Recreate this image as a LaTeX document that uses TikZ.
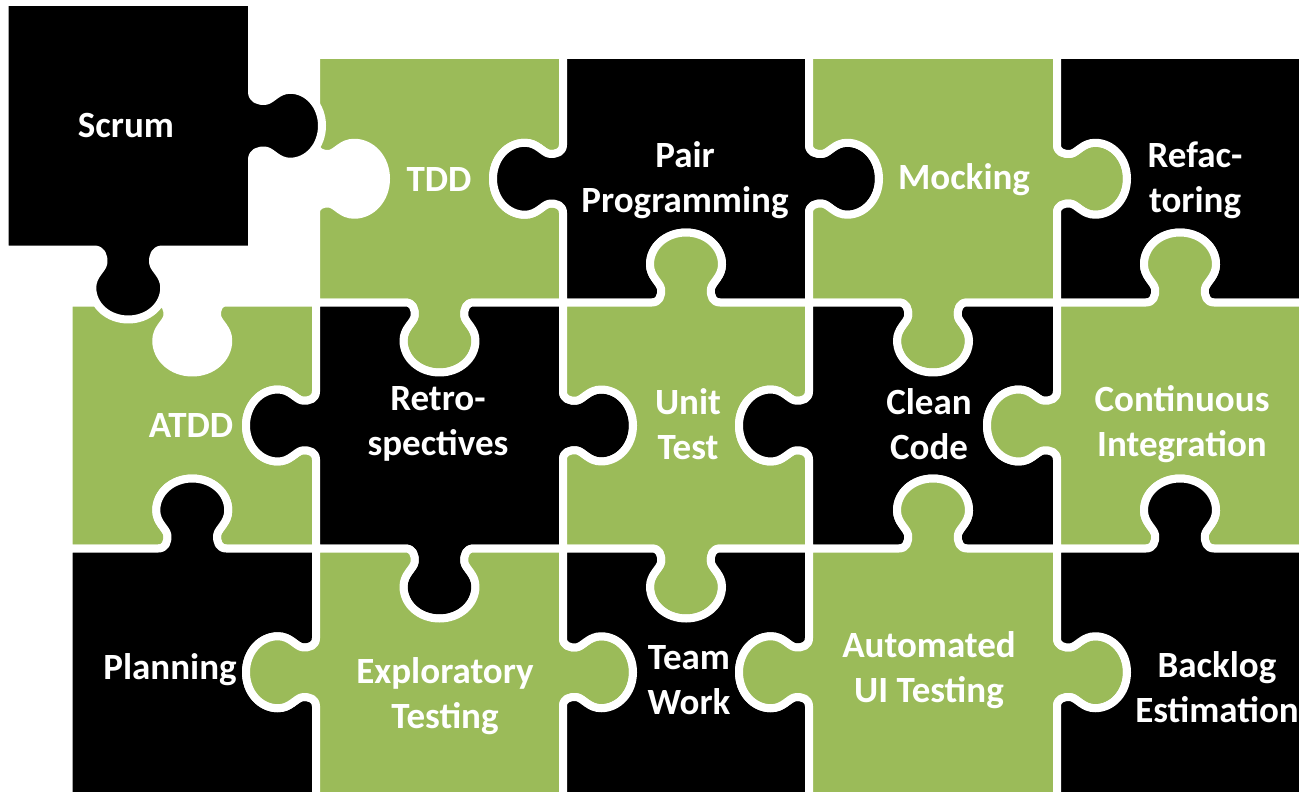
\documentclass[tikz,border=0pt]{standalone}
\usepackage{fontspec}
\setmainfont{Carlito}
\definecolor{leaf}{HTML}{9BBB59}

% one point of the tab profile: t along the edge, d away from it
\newcommand\jigpt[3]{%
  \pgfmathsetmacro\tmpx{\emx+(#2)*(\eux)+(\ess)*(#3)*(\euy)}%
  \pgfmathsetmacro\tmpy{\emy+(#2)*(\euy)-(\ess)*(#3)*(\eux)}%
  \expandafter\xdef\csname jig#1\endcsname{(\tmpx,\tmpy)}}

% append a tab (s=1) or a slot (s=-1) centred at (mx,my), edge direction (ux,uy)
\newcommand\jigtab[5]{%
  \def\emx{#1}\def\emy{#2}\def\eux{#3}\def\euy{#4}\def\ess{#5}%
  \ifnum#5=0\relax\else
    \jigpt{A}{-34}{0}\jigpt{B}{-27}{0}\jigpt{C}{-24}{6}\jigpt{D}{-25}{14}%
    \jigpt{E}{-26}{20}\jigpt{F}{-36}{26}\jigpt{G}{-36}{38}%
    \jigpt{H}{-36}{56}\jigpt{I}{-20}{70}\jigpt{J}{0}{70}%
    \jigpt{K}{20}{70}\jigpt{L}{36}{56}\jigpt{M}{36}{38}%
    \jigpt{N}{36}{26}\jigpt{O}{26}{20}\jigpt{P}{25}{14}%
    \jigpt{Q}{24}{6}\jigpt{R}{27}{0}\jigpt{S}{34}{0}%
    \xdef\pth{\pth\space -- \jigA\space
      .. controls \jigB\space and \jigC\space .. \jigD\space
      .. controls \jigE\space and \jigF\space .. \jigG\space
      .. controls \jigH\space and \jigI\space .. \jigJ\space
      .. controls \jigK\space and \jigL\space .. \jigM\space
      .. controls \jigN\space and \jigO\space .. \jigP\space
      .. controls \jigQ\space and \jigR\space .. \jigS}%
  \fi}

% piece: x0 y0 x1 y1, sides top right bottom left (1 tab, -1 slot, 0 flat), colour
\newcommand\jigpiece[9]{%
  \xdef\pth{(#1,#2)}%
  \jigtab{(#1+#3)/2}{#2}{1}{0}{#5}%
  \xdef\pth{\pth\space -- (#3,#2)}%
  \jigtab{#3}{(#2+#4)/2}{0}{1}{#6}%
  \xdef\pth{\pth\space -- (#3,#4)}%
  \jigtab{(#1+#3)/2}{#4}{-1}{0}{#7}%
  \xdef\pth{\pth\space -- (#1,#4)}%
  \jigtab{#1}{(#2+#4)/2}{0}{-1}{#8}%
  \xdef\pth{\pth\space -- cycle}%
  \edef\jigdo{\noexpand\path[jigsaw,fill=#9] \pth;}\jigdo}

\begin{document}
\begin{tikzpicture}[x=1pt,y=-1pt,
  jigsaw/.style={draw=white,line width=8pt,line join=round},
  lbl/.style={text=white,align=center,font=\bfseries\fontsize{37}{45}\selectfont,inner sep=0pt}]
\useasboundingbox (0,0) rectangle (1301,792);
\clip (0,0) rectangle (1301,792);

% row 1
\jigpiece{316}{55}{563}{302.5}{0}{-1}{1}{-1}{leaf}
\jigpiece{563}{55}{809}{302.5}{0}{1}{-1}{1}{black}
\jigpiece{809}{55}{1057}{302.5}{0}{1}{1}{-1}{leaf}
\jigpiece{1057}{55}{1303}{302.5}{0}{0}{-1}{-1}{black}
% row 2
\jigpiece{68.5}{302.5}{316}{548.5}{-1}{-1}{-1}{0}{leaf}
\jigpiece{316}{302.5}{563}{548.5}{-1}{1}{1}{1}{black}
\jigpiece{563}{302.5}{809}{548.5}{1}{-1}{1}{-1}{leaf}
\jigpiece{809}{302.5}{1057}{548.5}{-1}{-1}{-1}{1}{black}
\jigpiece{1057}{302.5}{1303}{548.5}{1}{0}{-1}{1}{leaf}
% row 3
\jigpiece{68.5}{548.5}{316}{796}{1}{-1}{0}{0}{black}
\jigpiece{316}{548.5}{563}{796}{-1}{1}{0}{1}{leaf}
\jigpiece{563}{548.5}{809}{796}{-1}{-1}{0}{-1}{black}
\jigpiece{809}{548.5}{1057}{796}{1}{1}{0}{1}{leaf}
\jigpiece{1057}{548.5}{1303}{796}{1}{0}{0}{-1}{black}
% the loose piece, lifted out of its place
\jigpiece{4.5}{2}{252}{249.5}{0}{1}{1}{0}{black}

\node[lbl] (scrum) at (126,126) {Scrum};
\node[lbl] (tdd) at (439,180) {TDD};
\node[lbl] (pair) at (685,180) {Pair\\Programming};
\node[lbl] (mock) at (964,180) {Mocking};
\node[lbl] (refac) at (1195,180) {Refac-\\toring};
\node[lbl] (atdd) at (191,425) {ATDD};
\node[lbl] (retro) at (438,424) {Retro-\\spectives};
\node[lbl] (unit) at (688,424) {Unit\\Test};
\node[lbl] (clean) at (929,424) {Clean\\Code};
\node[lbl] (ci) at (1182,424) {Continuous\\Integration};
\node[lbl] (plan) at (170,670) {Planning};
\node[lbl] (explore) at (445,696) {Exploratory\\Testing};
\node[lbl] (team) at (689,680) {Team\\Work};
\node[lbl] (auto) at (929,670) {Automated\\UI Testing};
\node[lbl] (backlog) at (1217,687) {Backlog\\Estimation};
\end{tikzpicture}
\end{document}
